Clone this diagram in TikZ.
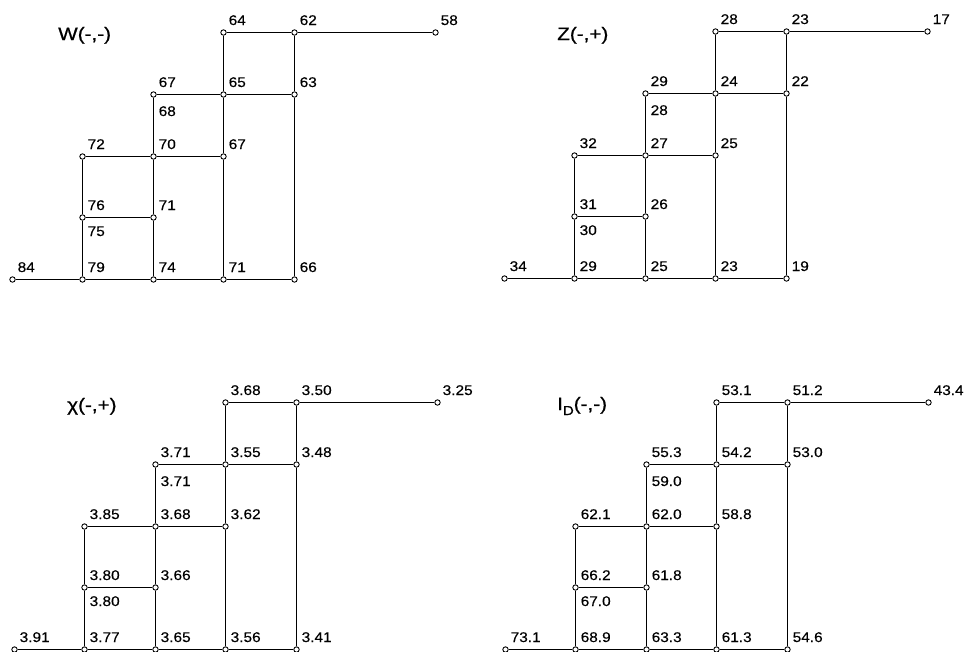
\documentclass[tikz,border=0pt]{standalone}
\usepackage{fontspec}
\newfontfamily\labfont[FakeStretch=1.1, FakeBold=0.3]{Liberation Sans}
\newfontfamily\ttlfont[FakeStretch=1.15, FakeBold=0.8]{Liberation Sans}
\tikzset{
  dot/.style={circle, draw, fill=white, line width=0.9pt, minimum size=5.4pt, inner sep=0pt},
  edge/.style={line width=1.25pt},
  lab/.style={anchor=base west, inner sep=0pt, xshift=5pt, yshift=7.5pt,
              font=\labfont\fontsize{14}{14}\selectfont},
  ttl/.style={anchor=base west, inner sep=0pt, font=\ttlfont\fontsize{18}{18}\selectfont},
}
% #1 name prefix, #2 origin (top-left grid point), #3 list of point/value labels
\newcommand\latgrid[3]{%
  \begin{scope}[shift={#2}]
    \foreach \c/\x in {0/0,1/70,2/141,3/211,4/282,5/423}
      \foreach \r/\y in {0/0,1/62,2/124,3/185,4/247}
        \coordinate (#1g\c r\r) at (\x,\y);
    \foreach \c/\r in {3/0,4/0,5/0,2/1,3/1,4/1,1/2,2/2,3/2,1/3,2/3,0/4,1/4,2/4,3/4,4/4}
      \node[dot] (#1c\c r\r) at (#1g\c r\r) {};
    \coordinate (#1e1) at ([yshift=-29pt]#1c2r1.center);
    \coordinate (#1e3) at ([yshift=-26pt]#1c1r3.center);
    % horizontal rungs
    \draw[edge] (#1c3r0) -- (#1c4r0) -- (#1c5r0);
    \draw[edge] (#1c2r1) -- (#1c3r1) -- (#1c4r1);
    \draw[edge] (#1c1r2) -- (#1c2r2) -- (#1c3r2);
    \draw[edge] (#1c1r3) -- (#1c2r3);
    \draw[edge] (#1c0r4) -- (#1c1r4) -- (#1c2r4) -- (#1c3r4) -- (#1c4r4);
    % vertical rails
    \draw[edge] (#1c1r2) -- (#1c1r3) -- (#1c1r4);
    \draw[edge] (#1c2r1) -- (#1c2r2) -- (#1c2r3) -- (#1c2r4);
    \draw[edge] (#1c3r0) -- (#1c3r1) -- (#1c3r2) -- (#1c3r4);
    \draw[edge] (#1c4r0) -- (#1c4r1) -- (#1c4r4);
    % values
    \foreach \p/\t in {#3}
      \node[lab] (#1t\p) at (#1\p) {\t};
  \end{scope}}

\begin{document}
\begin{tikzpicture}[x=1pt, y=-1pt]
  \useasboundingbox (0,0) rectangle (964,651);

  \latgrid{W}{(12.5,32.5)}{c3r0/64, c4r0/62, c5r0/58, c2r1/67, c3r1/65, c4r1/63, e1/68,
    c1r2/72, c2r2/70, c3r2/67, c1r3/76, c2r3/71, e3/75,
    c0r4/84, c1r4/79, c2r4/74, c3r4/71, c4r4/66}
  \node[ttl] (Wttl) at (58,40) {W(-,-)};

  \latgrid{Z}{(504.5,31.5)}{c3r0/28, c4r0/23, c5r0/17, c2r1/29, c3r1/24, c4r1/22, e1/28,
    c1r2/32, c2r2/27, c3r2/25, c1r3/31, c2r3/26, e3/30,
    c0r4/34, c1r4/29, c2r4/25, c3r4/23, c4r4/19}
  \node[ttl] (Zttl) at (557,40) {Z(-,+)};

  \latgrid{X}{(14.5,402.5)}{c3r0/3.68, c4r0/3.50, c5r0/3.25, c2r1/3.71, c3r1/3.55, c4r1/3.48, e1/3.71,
    c1r2/3.85, c2r2/3.68, c3r2/3.62, c1r3/3.80, c2r3/3.66, e3/3.80,
    c0r4/3.91, c1r4/3.77, c2r4/3.65, c3r4/3.56, c4r4/3.41}
  \node[ttl] (Xttl) at (67,411) {χ(-,+)};

  \latgrid{D}{(505.5,402.5)}{c3r0/53.1, c4r0/51.2, c5r0/43.4, c2r1/55.3, c3r1/54.2, c4r1/53.0, e1/59.0,
    c1r2/62.1, c2r2/62.0, c3r2/58.8, c1r3/66.2, c2r3/61.8, e3/67.0,
    c0r4/73.1, c1r4/68.9, c2r4/63.3, c3r4/61.3, c4r4/54.6}
  \node[ttl] (Dttl) at (557,410) {I\raisebox{-5pt}{\fontsize{13}{13}\selectfont D}(-,-)};
\end{tikzpicture}
\end{document}
